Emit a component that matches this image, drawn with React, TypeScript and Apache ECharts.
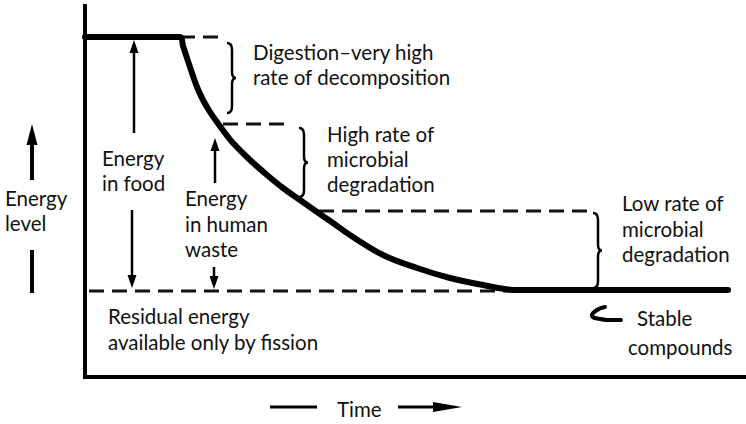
import React, { useEffect, useRef } from "react";
import * as echarts from "echarts";

// Curve of energy level over time (time units / energy units in chart space)
const curveTime = [0, 95, 98, 102, 107, 112, 118, 125, 132, 140, 148, 165, 182, 198, 215, 232, 248, 265, 298, 332, 365, 398, 432, 643];
const curveEnergy = [340, 340, 331, 319, 304, 290, 277, 265, 255, 244, 234, 217, 202, 189, 177, 165, 154, 142, 122, 109, 99, 92, 87, 87];

// Dashed reference levels
const levelStart = [95, 138, 234, 4];
const levelEnd = [140, 200, 502, 430];
const levelEnergy = [340, 253, 166, 86];

// Braces: time, top energy, bottom energy
const braceTime = [147, 219, 513];
const braceTop = [334, 249, 164];
const braceBottom = [264, 180, 89];

// Arrows: time, from energy, to energy
const arrowTime = [49, 47, 130, 129];
const arrowFrom = [244, 167, 194, 110];
const arrowTo = [337, 89, 239, 88];

// Text labels
const labelDigestion = ["Digestion\u2013very high", "rate of decomposition"];
const labelHigh = ["High rate of", "microbial", "degradation"];
const labelLow = ["Low rate of", "microbial", "degradation"];
const labelStable = ["Stable", "compounds"];
const labelFood = ["Energy", "in food"];
const labelWaste = ["Energy", "in human", "waste"];
const labelLevel = ["Energy", "level"];
const labelResidual = ["Residual energy", "available only by fission"];
const labelTime = ["Time"];

const FONT = "Lato";
const FS = 20.5;

function textBlock(lines: string[], xs: number[], y0: number, step: number) {
  return lines.map((t, i) => ({
    type: "text",
    x: xs[Math.min(i, xs.length - 1)],
    y: y0 + i * step,
    silent: true,
    style: {
      text: t,
      fontFamily: FONT,
      fontSize: FS,
      fill: "#111",
      align: "left",
      verticalAlign: "middle",
    },
  }));
}

export default function App() {
  const ref = useRef<HTMLDivElement>(null);
  useEffect(() => {
    if (!ref.current) return;
    const chart = echarts.init(ref.current, null, { renderer: "svg" });

    const levelSeries = levelEnergy.map((e, i) => ({
      type: "line",
      symbol: "none",
      silent: true,
      data: [
        [levelStart[i], e],
        [levelEnd[i], e],
      ],
      lineStyle: { color: "#111", width: 3, type: [15, 8] },
      z: 2,
    }));

    const option: any = {
      animation: false,
      backgroundColor: "#fff",
      grid: { left: 85, right: 0, top: 6, bottom: 47 },
      xAxis: {
        type: "value",
        min: 0,
        max: 661,
        axisLine: { show: true, onZero: false, lineStyle: { color: "#000", width: 4, cap: "square" } },
        axisTick: { show: false },
        axisLabel: { show: false },
        splitLine: { show: false },
      },
      yAxis: {
        type: "value",
        min: 0,
        max: 371,
        axisLine: { show: true, onZero: false, lineStyle: { color: "#000", width: 4, cap: "square" } },
        axisTick: { show: false },
        axisLabel: { show: false },
        splitLine: { show: false },
      },
      series: [
        {
          type: "line",
          symbol: "none",
          smooth: 0.35,
          silent: true,
          data: curveTime.map((t, i) => [t, curveEnergy[i]]),
          lineStyle: { color: "#000", width: 6, join: "round", cap: "round" },
          z: 5,
        },
        ...levelSeries,
        {
          type: "custom",
          silent: true,
          data: braceTime.map((t, i) => [t, braceTop[i], braceBottom[i]]),
          renderItem: (params: any, api: any) => {
            const top = api.coord([api.value(0), api.value(1)]);
            const bot = api.coord([api.value(0), api.value(2)]);
            const x = top[0];
            const y0 = top[1];
            const y1 = bot[1];
            const ym = (y0 + y1) / 2;
            const d =
              `M${x - 5},${y0} Q${x},${y0} ${x},${y0 + 7} ` +
              `L${x},${ym - 6} Q${x},${ym} ${x + 4},${ym} ` +
              `Q${x},${ym} ${x},${ym + 6} L${x},${y1 - 7} Q${x},${y1} ${x - 5},${y1}`;
            return {
              type: "path",
              shape: { pathData: d },
              style: { fill: "none", stroke: "#000", lineWidth: 2.5 },
            };
          },
          z: 3,
        },
        {
          type: "custom",
          silent: true,
          data: arrowTime.map((t, i) => [t, arrowFrom[i], arrowTo[i]]),
          renderItem: (params: any, api: any) => {
            const p0 = api.coord([api.value(0), api.value(1)]);
            const p1 = api.coord([api.value(0), api.value(2)]);
            const dir = p1[1] < p0[1] ? 1 : -1;
            const hl = 13;
            const hw = 4.5;
            return {
              type: "group",
              children: [
                {
                  type: "line",
                  shape: { x1: p0[0], y1: p0[1], x2: p1[0], y2: p1[1] + dir * hl * 0.7 },
                  style: { stroke: "#000", lineWidth: 2.5 },
                },
                {
                  type: "polygon",
                  shape: {
                    points: [
                      [p1[0], p1[1]],
                      [p1[0] - hw, p1[1] + dir * hl],
                      [p1[0] + hw, p1[1] + dir * hl],
                    ],
                  },
                  style: { fill: "#000" },
                },
              ],
            };
          },
          z: 4,
        },
      ],
      graphic: [
        // Energy level axis arrow and bar
        { type: "line", shape: { x1: 32, y1: 180, x2: 32, y2: 140 }, style: { stroke: "#000", lineWidth: 4 } },
        { type: "polygon", shape: { points: [[32, 124], [26.5, 145], [37.5, 145]] }, style: { fill: "#000" } },
        { type: "line", shape: { x1: 32, y1: 250, x2: 32, y2: 293 }, style: { stroke: "#000", lineWidth: 4 } },
        // Time arrow
        { type: "line", shape: { x1: 270, y1: 407, x2: 317, y2: 407 }, style: { stroke: "#000", lineWidth: 3 } },
        { type: "line", shape: { x1: 398, y1: 407, x2: 440, y2: 407 }, style: { stroke: "#000", lineWidth: 3 } },
        { type: "polygon", shape: { points: [[462, 407], [433, 402], [433, 412]] }, style: { fill: "#000" } },
        // Stable compounds hook
        {
          type: "polyline",
          shape: { points: [[605, 307], [597, 310], [592, 316], [600, 319], [611, 320], [621, 320]], smooth: 0.5 },
          style: { stroke: "#000", lineWidth: 4, fill: "none", lineCap: "round" },
        },
        ...textBlock(labelDigestion, [253], 52, 25),
        ...textBlock(labelHigh, [327], 134, 25),
        ...textBlock(labelLow, [622], 203, 25.5),
        ...textBlock(labelStable, [637, 628], 318, 29),
        ...textBlock(labelFood, [102], 158, 25),
        ...textBlock(labelWaste, [185], 198, 25.5),
        ...textBlock(labelLevel, [5], 198, 25),
        ...textBlock(labelResidual, [108], 316, 26),
        ...textBlock(labelTime, [337], 409, 0),
      ],
    };
    chart.setOption(option);
    return () => chart.dispose();
  }, []);
  return <div ref={ref} style={{ width: 746, height: 424, position: "absolute", left: 0, top: 0 }} />;
}
